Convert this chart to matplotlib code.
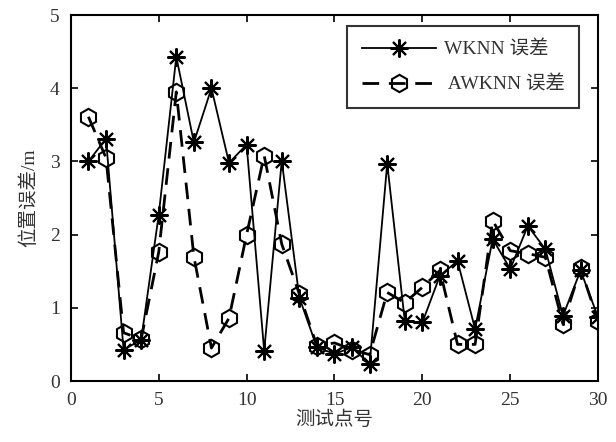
import matplotlib
matplotlib.use('Agg')
import matplotlib.pyplot as plt
import numpy as np

plt.rcParams['font.family'] = ['Liberation Serif', 'Noto Sans CJK SC']
plt.rcParams['font.size'] = 14

# test point index
points = list(range(1, 31))

# WKNN positioning error (m)
wknn_err = [3.00, 3.31, 0.43, 0.56, 2.27, 4.43, 3.26, 4.00, 2.98, 3.23,
            0.41, 3.01, 1.14, 0.46, 0.37, 0.46, 0.23, 2.97, 0.82, 0.80,
            1.44, 1.64, 0.71, 1.94, 1.53, 2.12, 1.80, 0.89, 1.51, 0.87]

# AWKNN positioning error (m)
awknn_err = [3.61, 3.05, 0.66, 0.57, 1.76, 3.95, 1.70, 0.45, 0.86, 2.00,
             3.08, 1.87, 1.19, 0.48, 0.52, 0.43, 0.36, 1.21, 1.07, 1.28,
             1.51, 0.50, 0.50, 2.19, 1.78, 1.74, 1.69, 0.78, 1.54, 0.82]

x_ticks = [0, 5, 10, 15, 20, 25, 30]
y_ticks = [0, 1, 2, 3, 4, 5]

fig = plt.figure(figsize=(6.16, 4.42), dpi=100)
ax = fig.add_axes([0.115, 0.138, 0.856, 0.828])

# asterisk marker: 8 arms
ax.plot(points, wknn_err, color='black', linewidth=1.3, marker=(8, 2, 0),
        markersize=13, markeredgewidth=1.5, markerfacecolor='none',
        label='WKNN 误差')
ax.plot(points, awknn_err, color='black', linewidth=2.0, linestyle=(0, (6, 3.5)),
        marker='h', markersize=12.5, markeredgewidth=1.5, markerfacecolor='none',
        label=' AWKNN 误差')

ax.set_xlim(0, 30)
ax.set_ylim(0, 5)
ax.set_xticks(x_ticks)
ax.set_yticks(y_ticks)
ax.tick_params(direction='in', top=True, right=True, length=5, width=1.2,
               labelcolor='#333333', pad=8)
for sp in ax.spines.values():
    sp.set_linewidth(1.5)

ax.set_xlabel('测试点号', color='#333333', labelpad=1)
ax.set_ylabel('位置误差/m', color='#333333', labelpad=8)

leg = ax.legend(loc='upper right', bbox_to_anchor=(0.975, 0.985), frameon=True,
                fancybox=False, edgecolor='black', handlelength=3.8,
                handletextpad=0.4, borderpad=0.75, labelspacing=0.85,
                borderaxespad=0.3, fontsize=14)
leg.get_frame().set_linewidth(1.5)
for t in leg.get_texts():
    t.set_color('#333333')

plt.savefig('out.png', dpi=100)
